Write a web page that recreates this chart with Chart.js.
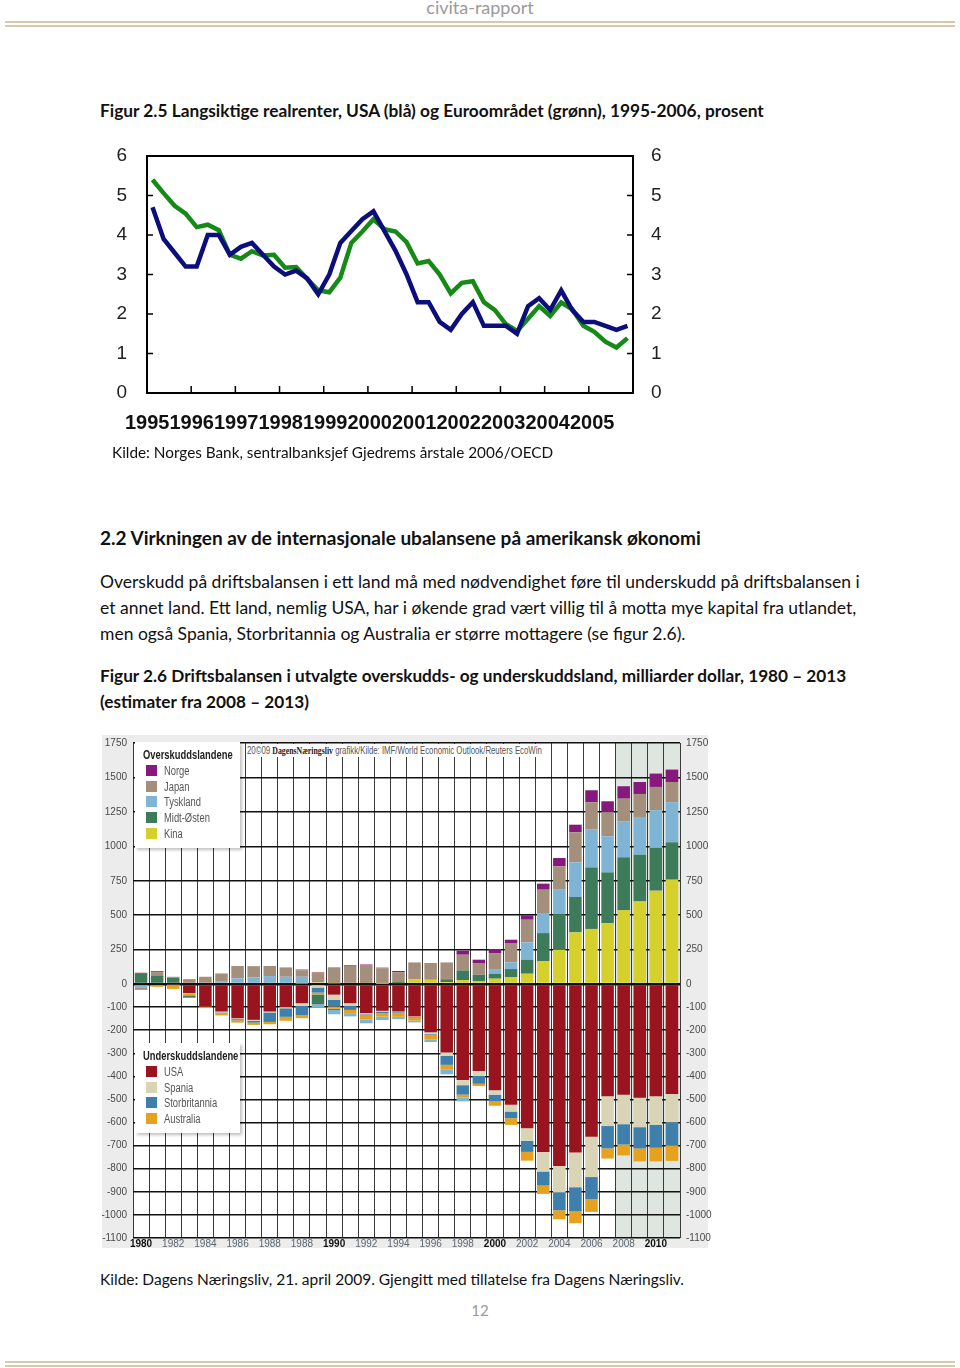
<!DOCTYPE html>
<html lang="no">
<head>
<meta charset="utf-8">
<title>civita-rapport</title>
<script src="https://cdn.jsdelivr.net/npm/chart.js@4.4.1/dist/chart.umd.min.js"></script>
<style>
  body { margin: 0; background: #fff; }
  #page { position: relative; width: 960px; height: 1368px; overflow: hidden; font-family: Lato, "Open Sans", sans-serif; color: #111; }
  .t { position: absolute; white-space: nowrap; line-height: 20px; }
  .b { font-weight: bold; }
  .rule { position: absolute; left: 5px; width: 950px; height: 2px; background: #d8c9aa; }
  canvas { position: absolute; }
  #barBack { position: absolute; background: #ececec; }
  .legend { position: absolute; background: #fff; box-shadow: 2px 2px 3px rgba(0,0,0,0.25);
            font-family: "Liberation Sans", Arial, sans-serif; }
  .legend .h { font-weight: bold; font-size: 12.5px; color: #222; margin: 6px 0 1px 8px; height: 15px; line-height: 15px; }
  .legend .row { height: 15.7px; font-size: 12.5px; color: #555; line-height: 15.7px; padding-left: 11px; }
  .legend .sw { display: inline-block; width: 11px; height: 11px; vertical-align: -1px; margin-right: 7px; }
  .cx { display: inline-block; transform: scaleX(0.75); transform-origin: 0 50%; }
  .credit { position: absolute; background: #fff; font-family: "Liberation Sans", Arial, sans-serif;
            font-size: 10px; color: #555; white-space: nowrap; width: 297px; height: 13px; line-height: 13px; overflow: hidden; }
  .credit .cx { transform: scaleX(0.78); }
  .credit b { font-family: "Liberation Serif", serif; color: #222; }
</style>
</head>
<body>
<div id="page">
  <div class="t" style="left:0;width:960px;text-align:center;top:-3px;font-size:18px;color:#9a9a9a;">civita-rapport</div>
  <div class="rule" style="top:21px;"></div>
  <div class="rule" style="top:25px;"></div>

  <div class="t b" style="left:100px;top:101px;font-size:17.3px;">Figur 2.5 Langsiktige realrenter, USA (blå) og Euroområdet (grønn), 1995-2006, prosent</div>
  <canvas id="rateChart" width="580" height="300" style="left:100px;top:140px;"></canvas>
  <div class="t b" style="left:125px;top:412px;font-family:'Liberation Sans',Arial,sans-serif;font-size:20px;color:#111;">19951996199719981999200020012002200320042005</div>
  <div class="t" style="left:112px;top:442px;font-size:15.3px;">Kilde: Norges Bank, sentralbanksjef Gjedrems årstale 2006/OECD</div>

  <div class="t b" style="left:100px;top:528px;font-size:19px;">2.2 Virkningen av de internasjonale ubalansene på amerikansk økonomi</div>
  <div class="t" style="left:100px;top:572px;font-size:17.5px;">Overskudd på driftsbalansen i ett land må med nødvendighet føre til underskudd på driftsbalansen i</div>
  <div class="t" style="left:100px;top:598px;font-size:17.5px;">et annet land. Ett land, nemlig USA, har i økende grad vært villig til å motta mye kapital fra utlandet,</div>
  <div class="t" style="left:100px;top:624px;font-size:17.5px;">men også Spania, Storbritannia og Australia er større mottagere (se figur 2.6).</div>

  <div class="t b" style="left:100px;top:666px;font-size:17.2px;">Figur 2.6 Driftsbalansen i utvalgte overskudds- og underskuddsland, milliarder dollar, 1980 – 2013</div>
  <div class="t b" style="left:100px;top:692px;font-size:17.2px;">(estimater fra 2008 – 2013)</div>

  <div id="barBack" style="left:102px;top:735px;width:606px;height:513px;"></div>
  <canvas id="barCanvas" width="616" height="513" style="left:102px;top:735px;"></canvas>
  <div class="credit" style="left:247px;top:744px;"><span class="cx">20©09 <b>DagensNæringsliv</b> grafikk/Kilde: IMF/World Economic Outlook/Reuters EcoWin</span></div>
  <div class="legend" id="legendTop" style="left:135px;top:742px;width:105px;height:106px;"></div>
  <div class="legend" id="legendBottom" style="left:135px;top:1043px;width:105px;height:90px;"></div>

  <div class="t" style="left:100px;top:1269px;font-size:15.5px;">Kilde: Dagens Næringsliv, 21. april 2009. Gjengitt med tillatelse fra Dagens Næringsliv.</div>
  <div class="t" style="left:0;width:960px;text-align:center;top:1300px;font-size:15px;color:#9a9a9a;">12</div>
  <div class="rule" style="top:1361px;"></div>
  <div class="rule" style="top:1365px;"></div>
</div>

<script>
// ---------- Figur 2.5: langsiktige realrenter, kvartalsvis 1995-2005 ----------
const quarters = [];
for (let y = 1995; y <= 2005; y++) for (let q = 1; q <= 4; q++) quarters.push(y + 'K' + q);

const usaRate = [4.7, 3.9, 3.55, 3.2, 3.2, 4.0, 4.0, 3.5, 3.7, 3.8, 3.5, 3.2, 3.0, 3.1, 2.9, 2.5,
                 3.0, 3.8, 4.1, 4.4, 4.6, 4.1, 3.6, 3.0, 2.3, 2.3, 1.8, 1.6, 2.0, 2.3, 1.7, 1.7,
                 1.7, 1.5, 2.2, 2.4, 2.1, 2.6, 2.1, 1.8, 1.8, 1.7, 1.6, 1.7];
const euroRate = [5.4, 5.06, 4.74, 4.54, 4.2, 4.26, 4.12, 3.5, 3.4, 3.59, 3.48, 3.5, 3.17, 3.19, 2.89, 2.6,
                  2.55, 2.92, 3.8, 4.09, 4.4, 4.15, 4.09, 3.82, 3.28, 3.34, 3.0, 2.52, 2.79, 2.83, 2.3, 2.1,
                  1.74, 1.57, 1.88, 2.2, 1.95, 2.29, 2.12, 1.7, 1.55, 1.3, 1.15, 1.39];

const boxAndTicks = {
    id: 'boxAndTicks',
    afterDraw(chart) {
        const { ctx, chartArea: a, scales } = chart;
        ctx.save();
        ctx.strokeStyle = '#000';
        ctx.lineWidth = 2;
        ctx.strokeRect(a.left, a.top, a.right - a.left, a.bottom - a.top);
        ctx.lineWidth = 1.5;
        ctx.beginPath();
        scales.y.ticks.forEach(t => {
            const py = scales.y.getPixelForValue(t.value);
            ctx.moveTo(a.left, py); ctx.lineTo(a.left + 6, py);
            ctx.moveTo(a.right - 6, py); ctx.lineTo(a.right, py);
        });
        for (let i = 4; i < quarters.length; i += 4) {
            const px = (scales.x.getPixelForValue(i - 1) + scales.x.getPixelForValue(i)) / 2;
            ctx.moveTo(px, a.bottom); ctx.lineTo(px, a.bottom - 7);
        }
        ctx.stroke();
        ctx.restore();
    }
};

const rateTicks = { stepSize: 1, color: '#222', font: { family: "'Liberation Sans', Arial, sans-serif", size: 19 } };
// fixed axis box sizes; no extra label padding above/below the plot
const fixWidth = w => s => { s.width = w; s.paddingTop = 0; s.paddingBottom = 0; };

new Chart(document.getElementById('rateChart'), {
    type: 'line',
    data: {
        labels: quarters,
        datasets: [
            { label: 'USA', data: usaRate, borderColor: '#0c0e7c', borderWidth: 4.5, pointRadius: 0, tension: 0 },
            { label: 'Euroområdet', data: euroRate, borderColor: '#168a16', borderWidth: 4.5, pointRadius: 0, tension: 0 }
        ]
    },
    options: {
        responsive: false,
        animation: false,
        layout: { padding: { top: 16 } },
        plugins: { legend: { display: false }, tooltip: { enabled: false } },
        scales: {
            x: { offset: true, grid: { display: false }, border: { display: false }, ticks: { display: false },
                 afterFit: s => { s.height = 47; } },
            y: { min: 0, max: 6, grid: { display: false, drawTicks: false }, border: { display: false },
                 ticks: { ...rateTicks, padding: 20 }, afterFit: fixWidth(47) },
            y2: { position: 'right', min: 0, max: 6, grid: { display: false, drawTicks: false }, border: { display: false },
                  ticks: { ...rateTicks, padding: 18 }, afterFit: fixWidth(47) }
        }
    },
    plugins: [boxAndTicks]
});

// ---------- Figur 2.6: driftsbalanser 1980-2013, mrd. dollar ----------
const years = ['1980','1981','1982','1983','1984','1985','1986','1987','1988','1989','1990','1991',
               '1992','1993','1994','1995','1996','1997','1998','1999','2000','2001','2002','2003',
               '2004','2005','2006','2007','2008','2009','2010','2011','2012','2013'];
// labels printed under every second bar, as in the original graphic
const yearTickLabels = ['1980','1982','1984','1986','1988','1988','1990','1992','1994','1996',
                        '1998','2000','2002','2004','2006','2008','2010'];
const boldYearLabels = ['1980','1990','2000','2010'];
const shadedFrom = '2010';
const barTickValues = [-1100,-1000,-900,-800,-700,-600,-500,-400,-300,-200,-100,0,250,500,750,1000,1250,1500,1750];

const kina = [0,0,0,0,0,0,0,0,0,0,5,12,6,0,8,3,7,36,31,15,27,19,39,51,75,165,249,375,400,443,535,600,678,758];
const midtOsten = [73,63,46,-10,0,0,0,0,0,0,0,-43,-5,0,0,0,8,0,0,20,72,49,36,58,102,205,259,257,447,368,385,339,310,271];
const tyskland = [-14,0,0,0,0,17,41,48,58,53,48,-14,-19,-14,-17,-15,-10,-8,-10,-22,-17,0,34,48,126,146,177,252,274,262,262,274,274,291];
const japan = [-11,24,7,36,53,60,90,82,73,68,48,68,116,132,130,111,70,121,122,122,114,85,116,141,164,169,170,218,199,174,164,167,169,147];
const norge = [4,0,0,0,0,0,0,0,0,0,4,0,0,5,4,5,10,0,0,0,29,24,29,24,32,44,60,55,87,80,90,87,97,90];
const usa = [5,6,-3,-39,-97,-119,-148,-155,-119,-100,-83,4,-46,-83,-126,-116,-119,-140,-209,-296,-416,-377,-460,-523,-625,-727,-788,-730,-661,-486,-479,-493,-486,-476];
const spania = [0,0,-5,-3,0,-4,-4,-4,-4,-5,-12,-15,-22,-10,-5,-3,-3,-3,-7,-15,-22,-21,-19,-29,-54,-85,-114,-150,-175,-129,-128,-127,-124,-123];
const storbritannia = [0,0,0,0,0,-3,-5,-8,-41,-37,-39,-22,-29,-19,-5,-7,-5,-3,-3,-39,-41,-34,-29,-29,-48,-61,-78,-105,-95,-97,-88,-92,-99,-99];
const australia = [0,-12,-13,-7,-7,-10,-10,-10,-10,-17,-14,-8,-10,-14,-17,-15,-15,-12,-22,-19,-12,-10,-19,-29,-38,-36,-39,-51,-56,-44,-47,-56,-59,-68];

const surplus = [
    { label: 'Kina', data: kina, color: '#d5d02b' },
    { label: 'Midt-Østen', data: midtOsten, color: '#3e7b5a' },
    { label: 'Tyskland', data: tyskland, color: '#80b4d4' },
    { label: 'Japan', data: japan, color: '#a48e7c' },
    { label: 'Norge', data: norge, color: '#861a7c' }
];
const deficit = [
    { label: 'USA', data: usa, color: '#9a1420' },
    { label: 'Spania', data: spania, color: '#d9d4b5' },
    { label: 'Storbritannia', data: storbritannia, color: '#3f7fab' },
    { label: 'Australia', data: australia, color: '#e6a21f' }
];

// positive axis (0..1750) and negative axis (0..-1100) have different scales
const posShare = 0.487;
const BaseLinear = Chart.LinearScale || Chart.registry.getScale('linear');
class SplitScale extends BaseLinear {
    buildTicks() {
        return barTickValues.map(v => ({ value: v }));
    }
    zeroPixel() {
        return this.top + (this.bottom - this.top) * posShare;
    }
    getPixelForValue(value) {
        if (value === null || value === undefined || isNaN(value)) return NaN;
        const zero = this.zeroPixel();
        if (value >= 0) return zero - value / this.max * (zero - this.top);
        return zero + value / this.min * (this.bottom - zero);
    }
    getValueForPixel(pixel) {
        const zero = this.zeroPixel();
        if (pixel <= zero) return (zero - pixel) / (zero - this.top) * this.max;
        return (pixel - zero) / (this.bottom - zero) * this.min;
    }
}
SplitScale.id = 'split';
SplitScale.defaults = BaseLinear.defaults;
Chart.register(SplitScale);

const bar = (label, data, color) => ({
    label, data, backgroundColor: color, borderWidth: 0,
    categoryPercentage: 0.78, barPercentage: 1.0
});
const barDatasets = [];
surplus.forEach(s => barDatasets.push(bar(s.label, s.data.map(v => v > 0 ? v : null), s.color)));
deficit.forEach(s => barDatasets.push(bar(s.label, s.data.map(v => v !== 0 ? v : null), s.color)));
// negative years of surplus countries go below the deficit countries
surplus.forEach(s => {
    if (s.data.some(v => v < 0)) barDatasets.push(bar(s.label, s.data.map(v => v < 0 ? v : null), s.color));
});

const plotBackground = {
    id: 'plotBackground',
    beforeDraw(chart) {
        const { ctx, chartArea: a, scales } = chart;
        ctx.save();
        ctx.fillStyle = '#fff';
        ctx.fillRect(a.left, a.top, a.right - a.left, a.bottom - a.top);
        const i = years.indexOf(shadedFrom);
        const x0 = (scales.x.getPixelForValue(i - 1) + scales.x.getPixelForValue(i)) / 2;
        ctx.fillStyle = '#dfe5df';
        ctx.fillRect(x0, a.top, a.right - x0, a.bottom - a.top);
        ctx.restore();
    }
};

const axisFont = { family: "'Liberation Sans', Arial, sans-serif", size: 10 };

new Chart(document.getElementById('barCanvas'), {
    type: 'bar',
    data: { labels: years, datasets: barDatasets },
    options: {
        responsive: false,
        animation: false,
        layout: { padding: { top: 8 } },
        plugins: { legend: { display: false }, tooltip: { enabled: false } },
        scales: {
            x: {
                stacked: true,
                grid: { color: '#3a3a3a', lineWidth: 1, offset: true, drawTicks: false },
                border: { display: false },
                ticks: {
                    autoSkip: false, maxRotation: 0, padding: 0,
                    callback: (v, i) => (i % 2 === 0 ? yearTickLabels[i / 2] : ''),
                    color: ctx => (boldYearLabels.includes(ctx.tick.label) ? '#111' : '#5b6670'),
                    font: ctx => ({ ...axisFont, weight: boldYearLabels.includes(ctx.tick.label) ? 'bold' : 'normal' })
                },
                afterFit: s => { s.height = 10; }
            },
            y: {
                type: 'split', stacked: true, min: -1100, max: 1750,
                grid: { color: '#111', lineWidth: ctx => (ctx.tick && ctx.tick.value === 0 ? 2.5 : 1.5), drawTicks: false },
                border: { display: false },
                ticks: { color: '#4a4a4a', font: axisFont, padding: 6, callback: v => String(v) },
                afterFit: fixWidth(31)
            },
            y2: {
                type: 'split', position: 'right', min: -1100, max: 1750,
                grid: { drawOnChartArea: false, drawTicks: false },
                border: { display: false },
                ticks: { color: '#4a4a4a', font: axisFont, padding: 6, callback: v => String(v) },
                afterFit: fixWidth(38)
            }
        }
    },
    plugins: [plotBackground]
});

// legend boxes inside the graphic
function fillLegend(el, title, series) {
    let html = `<div class="h"><span class="cx">${title}</span></div>`;
    series.forEach(s => {
        html += `<div class="row"><span class="sw" style="background:${s.color}"></span><span class="cx">${s.label}</span></div>`;
    });
    el.innerHTML = html;
}
fillLegend(document.getElementById('legendTop'), 'Overskuddslandene', surplus.slice().reverse());
fillLegend(document.getElementById('legendBottom'), 'Underskuddslandene', deficit);
</script>
</body>
</html>
